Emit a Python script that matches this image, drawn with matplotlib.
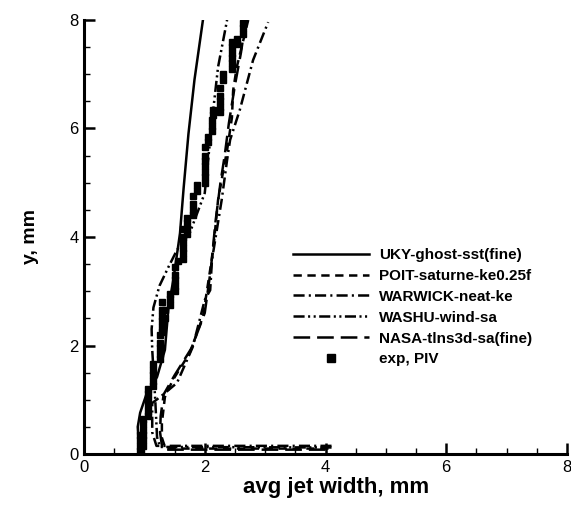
import matplotlib
matplotlib.use("Agg")
import matplotlib.pyplot as plt
from matplotlib.ticker import MultipleLocator

plt.rcParams['font.family'] = ['Liberation Sans', 'DejaVu Sans']
plt.rcParams['lines.scale_dashes'] = False

# ---- data ----
uky_x = [0.96, 0.91, 0.89, 0.93, 1.04, 1.21, 1.34, 1.40, 1.48, 1.59, 1.65, 1.73, 1.83, 1.97]
uky_y = [0.04, 0.13, 0.50, 0.76, 1.12, 1.42, 1.92, 2.71, 3.21, 4.07, 4.90, 5.90, 6.90, 8.00]

poit_x = [4.05, 1.35, 1.29, 1.29, 1.34, 1.47, 1.75, 1.97, 2.14, 2.22, 2.30, 2.37, 2.45, 2.47, 2.53, 2.72]
poit_y = [0.10, 0.10, 0.30, 0.57, 1.05, 1.36, 1.86, 2.53, 3.76, 4.68, 5.18, 5.60, 6.20, 6.70, 7.13, 8.00]

warwick_x = [4.10, 1.20, 1.13, 1.13, 1.26, 1.54, 1.80, 2.00, 2.09, 2.12, 2.20, 2.28, 2.37, 2.42, 2.58, 2.80, 3.05]
warwick_y = [0.15, 0.15, 0.40, 0.94, 1.05, 1.31, 1.97, 2.84, 3.02, 3.58, 4.13, 4.68, 5.42, 5.79, 6.34, 7.26, 7.96]

washu_x = [4.10, 1.26, 1.21, 1.18, 1.13, 1.12, 1.15, 1.25, 1.40, 1.54, 1.75, 2.00, 2.14, 2.22, 2.37]
washu_y = [0.12, 0.13, 0.31, 1.00, 1.92, 2.30, 2.70, 3.10, 3.45, 3.76, 4.07, 4.81, 6.34, 7.13, 8.00]

nasa_x = [4.00, 1.30, 1.26, 1.27, 1.32, 1.50, 1.78, 2.00, 2.10, 2.18, 2.26, 2.33, 2.40, 2.50, 2.60, 2.68]
nasa_y = [0.08, 0.08, 0.40, 0.70, 1.10, 1.45, 1.95, 2.60, 3.40, 4.30, 5.00, 5.50, 6.10, 6.80, 7.40, 8.00]

exp_x = [0.93, 0.93, 0.93, 0.93,
         0.98, 0.98, 0.98, 0.98, 0.98, 0.98,
         1.06, 1.06, 1.06, 1.06, 1.06, 1.06,
         1.14, 1.14, 1.14, 1.14, 1.14,
         1.26, 1.26, 1.26, 1.26, 1.26,
         1.29, 1.29, 1.29, 1.29, 1.29, 1.29,
         1.34, 1.34, 1.42, 1.42, 1.42,
         1.51, 1.51, 1.51, 1.51, 1.51, 1.56,
         1.64, 1.64, 1.64, 1.64, 1.64, 1.64,
         1.70, 1.70, 1.70, 1.70,
         1.80, 1.80, 1.80, 1.80,
         1.87, 1.87,
         2.00, 2.00, 2.00, 2.00, 2.00, 2.00, 2.00,
         2.05, 2.05, 2.12, 2.12, 2.12, 2.14, 2.14,
         2.25, 2.25, 2.25, 2.25, 2.25,
         2.30, 2.30, 2.45, 2.45, 2.45, 2.45, 2.45, 2.45,
         2.53, 2.53, 2.64, 2.64, 2.64]
exp_y = [0.05, 0.15, 0.25, 0.35,
         0.15, 0.25, 0.35, 0.45, 0.55, 0.65,
         0.70, 0.80, 0.90, 1.00, 1.10, 1.20,
         1.25, 1.35, 1.45, 1.55, 1.65,
         1.75, 1.85, 1.95, 2.05, 2.20,
         2.25, 2.35, 2.45, 2.55, 2.65, 2.80,
         2.50, 2.65, 2.75, 2.85, 2.95,
         3.00, 3.10, 3.20, 3.30, 3.45, 3.55,
         3.60, 3.70, 3.80, 3.90, 4.00, 4.15,
         4.05, 4.15, 4.25, 4.35,
         4.40, 4.50, 4.60, 4.75,
         4.85, 4.95,
         5.00, 5.10, 5.20, 5.30, 5.40, 5.50, 5.65,
         5.75, 5.85, 5.95, 6.05, 6.15, 6.25, 6.35,
         6.30, 6.40, 6.50, 6.60, 6.75,
         6.90, 7.00, 7.10, 7.20, 7.30, 7.40, 7.50, 7.60,
         7.55, 7.65, 7.75, 7.85, 7.95]

labels = ['UKY-ghost-sst(fine)', 'POIT-saturne-ke0.25f', 'WARWICK-neat-ke',
          'WASHU-wind-sa', 'NASA-tlns3d-sa(fine)', 'exp, PIV']
xticks = [0, 2, 4, 6, 8]
yticks = [0, 2, 4, 6, 8]

# ---- figure ----
fig = plt.figure(figsize=(5.71, 5.08), dpi=100)
ax = fig.add_axes([84/571, 54/508, 483/571, 434/508])

lw = 1.8
ax.plot(uky_x, uky_y, color='black', lw=lw, label=labels[0])
ax.plot(poit_x, poit_y, color='black', lw=lw, dashes=(6, 4), label=labels[1])
ax.plot(warwick_x, warwick_y, color='black', lw=lw, dashes=(8, 3, 1.5, 3), label=labels[2])
ax.plot(washu_x, washu_y, color='black', lw=lw, dashes=(8, 2.5, 1.5, 2.5, 1.5, 2.5), label=labels[3])
ax.plot(nasa_x, nasa_y, color='black', lw=lw, dashes=(12, 5), label=labels[4])
ax.plot(exp_x, exp_y, linestyle='none', marker='s', markersize=4.8,
        markerfacecolor='black', markeredgecolor='black', label=labels[5])

ax.set_xlim(0, 8)
ax.set_ylim(0, 8)
ax.set_xticks(xticks)
ax.set_yticks(yticks)
ax.xaxis.set_minor_locator(MultipleLocator(0.5))
ax.yaxis.set_minor_locator(MultipleLocator(0.5))
ax.tick_params(which='major', direction='in', length=8, width=1.8, labelsize=12, pad=4)
ax.tick_params(which='minor', direction='in', length=4, width=1.0)
ax.spines['top'].set_visible(False)
ax.spines['right'].set_visible(False)
ax.spines['left'].set_linewidth(2.2)
ax.spines['bottom'].set_linewidth(2.2)

ax.set_xlabel('avg jet width, mm', fontsize=16, fontweight='bold', labelpad=1)
ax.xaxis.set_label_coords(0.522, -0.052)
ax.set_ylabel('y, mm', fontsize=14, fontweight='bold', labelpad=22)

leg = ax.legend(loc='upper left', bbox_to_anchor=(293/571, 1 - 248/508),
                bbox_transform=fig.transFigure, frameon=False,
                prop={'weight': 'bold', 'size': 11}, handlelength=5.0,
                handletextpad=0.65, labelspacing=0.45, borderpad=0, borderaxespad=0,
                markerscale=1.3)

fig.savefig('out.png', dpi=100)
